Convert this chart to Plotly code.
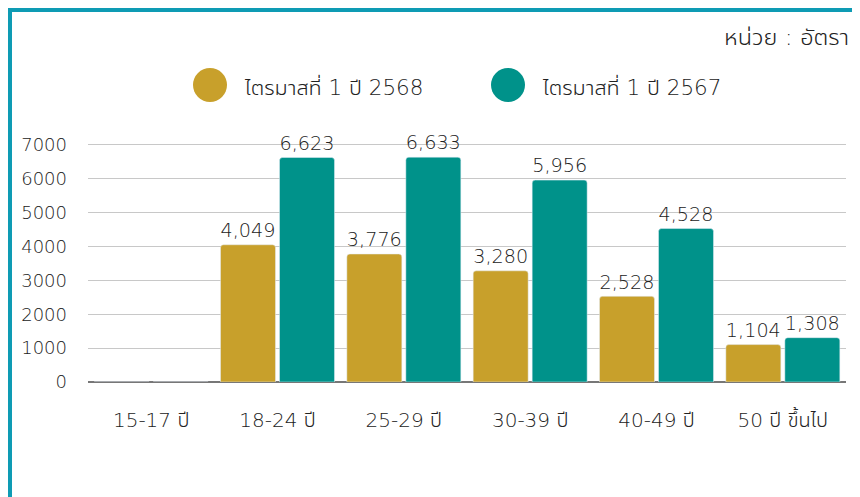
import plotly.graph_objects as go

categories = ["15-17 ปี", "18-24 ปี", "25-29 ปี", "30-39 ปี", "40-49 ปี", "50 ปี ขึ้นไป"]
series_names = ["ไตรมาสที่ 1 ปี 2568", "ไตรมาสที่ 1 ปี 2567"]
values_2568 = [0, 4049, 3776, 3280, 2528, 1104]
values_2567 = [0, 6623, 6633, 5956, 4528, 1308]
y_ticks = [0, 1000, 2000, 3000, 4000, 5000, 6000, 7000]
unit_label = "หน่วย : อัตรา"

colors = ["#C8A02B", "#00928A"]
FONT = ("'DejaVu Sans', 'Leelawadee UI', Tahoma, 'Noto Sans Thai UI', 'Noto Sans Thai', Loma, "
        "Garuda, Waree, Sarabun, Norasi, Kinnari, sans-serif")
TXT = "#222222"
WT = 300

# The page body has an 8px margin, so layout positions are measured from (8, 8)
OFF = 8
W, H = 860 - OFF, 497 - OFF
L, R, T, B = 88 - OFF, 860 - 846, 121 - OFF, 497 - 382
PW, PH = W - L - R, H - T - B

def px(x):  # reference screen x -> paper
    return (x - OFF - L) / PW

def py(y):  # reference screen y -> paper
    return (H - B - (y - OFF)) / PH

def labels(vals):
    return [f"{v:,}" if v else "" for v in vals]

fig = go.Figure()
for name, vals, c in [(series_names[0], values_2568, colors[0]), (series_names[1], values_2567, colors[1])]:
    fig.add_trace(go.Bar(
        x=categories, y=vals, name=name, marker_color=c,
        text=labels(vals), textposition="outside", cliponaxis=False,
        textfont=dict(size=20, color=TXT, family=FONT, weight=WT),
        showlegend=False,
    ))

BC = "#0E9BB4"
shapes = [
    dict(type="line", xref="paper", yref="paper", x0=px(8), x1=px(870), y0=py(10), y1=py(10),
         line=dict(color=BC, width=4)),
    dict(type="line", xref="paper", yref="paper", x0=px(10), x1=px(10), y0=py(8), y1=py(505),
         line=dict(color=BC, width=4)),
]
annotations = [
    dict(text=unit_label, xref="paper", yref="paper", x=px(851), y=py(37), xanchor="right",
         yanchor="middle", showarrow=False, font=dict(size=23.5, color=TXT, family=FONT, weight=WT)),
]
legend_pos = [(210, 242), (508, 540)]
for (cx, tx), name, c in zip(legend_pos, series_names, colors):
    shapes.append(dict(type="circle", xref="paper", yref="paper", x0=px(cx - 17), x1=px(cx + 17),
                       y0=py(85 + 17), y1=py(85 - 17), fillcolor=c, line=dict(width=0)))
    annotations.append(dict(text=name, xref="paper", yref="paper", x=px(tx), y=py(87), xanchor="left",
                            yanchor="middle", showarrow=False,
                            font=dict(size=21.5, color=TXT, family=FONT, weight=WT)))

fig.update_layout(
    width=W, height=H,
    margin=dict(l=L, r=R, t=T, b=B),
    paper_bgcolor="white", plot_bgcolor="white",
    barmode="group", bargap=0.066, bargroupgap=0.068, barcornerradius=3,
    font=dict(family=FONT, size=18, color=TXT, weight=WT),
    shapes=shapes, annotations=annotations,
    xaxis=dict(tickfont=dict(size=20, color=TXT, weight=WT), ticks="", showline=False, ticklabelstandoff=24),
    yaxis=dict(range=[0, 7700], tickvals=y_ticks, ticktext=[str(v) for v in y_ticks],
               showgrid=True, gridcolor="#C8C8C8", gridwidth=1,
               zeroline=True, zerolinecolor="#777777", zerolinewidth=1.5,
               tickfont=dict(size=18, color=TXT, weight=WT), ticklabelstandoff=20),
)

fig.write_html("out.html")
